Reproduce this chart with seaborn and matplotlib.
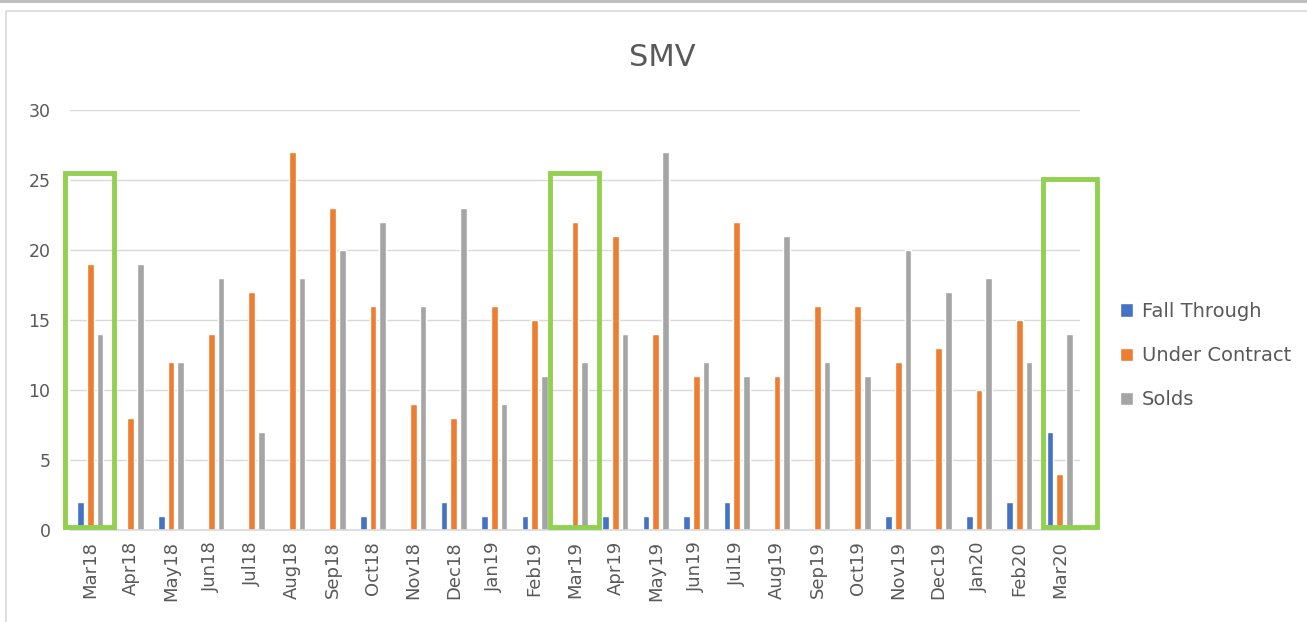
import numpy as np
import pandas as pd
import seaborn as sns
import matplotlib
matplotlib.use("Agg")
import matplotlib.pyplot as plt
from matplotlib.patches import Rectangle

months = ["Mar18", "Apr18", "May18", "Jun18", "Jul18", "Aug18", "Sep18", "Oct18",
          "Nov18", "Dec18", "Jan19", "Feb19", "Mar19", "Apr19", "May19", "Jun19",
          "Jul19", "Aug19", "Sep19", "Oct19", "Nov19", "Dec19", "Jan20", "Feb20", "Mar20"]
fall_through = [2, 0, 1, 0, 0, 0, 0, 1, 0, 2, 1, 1, 0, 1, 1, 1, 2, 0, 0, 0, 1, 0, 1, 2, 7]
under_contract = [19, 8, 12, 14, 17, 27, 23, 16, 9, 8, 16, 15, 22, 21, 14, 11, 22, 11, 16, 16, 12, 13, 10, 15, 4]
solds = [14, 19, 12, 18, 7, 18, 20, 22, 16, 23, 9, 11, 12, 14, 27, 12, 11, 21, 12, 11, 20, 17, 18, 12, 14]
series_names = ["Fall Through", "Under Contract", "Solds"]
highlight = ["Mar18", "Mar19", "Mar20"]

df = pd.DataFrame({
    "Month": months * 3,
    "Series": [series_names[0]] * len(months) + [series_names[1]] * len(months) + [series_names[2]] * len(months),
    "Value": fall_through + under_contract + solds,
})

sns.set_theme(style="white")
plt.rcParams['font.family'] = ['DejaVu Sans']
text_color = "#595959"
grid_color = "#D9D9D9"
palette = ["#4472C4", "#ED7D31", "#A5A5A5"]

fig = plt.figure(figsize=(13.07, 6.22), dpi=100)
ax = fig.add_axes([70 / 1307, 1 - 530 / 622, 1010 / 1307, 420 / 622])

sns.barplot(data=df, x="Month", y="Value", hue="Series", order=months,
            hue_order=series_names, palette=palette, width=0.72, gap=0.3,
            saturation=1, ax=ax, legend=True)

ax.set_ylim(0, 30)
ax.set_xlim(-0.5, len(months) - 0.5)
ax.set_yticks(range(0, 31, 5))
ax.yaxis.grid(True, color=grid_color, linewidth=1.0)
ax.set_axisbelow(True)
for s in ["top", "right", "left"]:
    ax.spines[s].set_visible(False)
ax.spines["bottom"].set_color(grid_color)
ax.spines["bottom"].set_linewidth(1.2)
ax.set_xlabel("")
ax.set_ylabel("")
ax.tick_params(axis="y", length=0, labelsize=12.5, labelcolor=text_color, pad=14)
ax.tick_params(axis="x", which="major", length=0, labelsize=13, labelcolor=text_color,
               rotation=90, pad=8)
ax.set_xticks(np.arange(-0.5, len(months), 1.0), minor=True)
ax.tick_params(axis="x", which="minor", length=6, color=grid_color, width=1.2)

fig.text(662 / 1307, 1 - 57 / 622, "SMV", fontsize=22, color=text_color,
         ha="center", va="center")

# highlight boxes
for m in highlight:
    i = months.index(m)
    if i == len(months) - 1:
        x0, x1, y1 = i - 0.42, i + 0.92, 25.05
    else:
        x0, x1, y1 = i - 0.63, i + 0.6, 25.5
    rect = Rectangle((x0, 0.2), x1 - x0, y1 - 0.2, fill=False, edgecolor="#92D050",
                     linewidth=3.5, clip_on=False, zorder=5)
    ax.add_patch(rect)

handles, labels = ax.get_legend_handles_labels()
ax.legend(handles, labels, loc="center left", bbox_to_anchor=(1.022, 0.415), frameon=False,
          fontsize=14, labelcolor=text_color, handlelength=0.7, handleheight=0.7,
          handletextpad=0.45, labelspacing=1.3)

# outer frame
fig.add_artist(Rectangle((0, 1 - 3 / 622), 1, 3 / 622, transform=fig.transFigure,
                         facecolor="#BFBFBF", edgecolor="none"))
fig.add_artist(Rectangle((6 / 1307, -0.05), 1.1, 1 - 11 / 622 + 0.05, transform=fig.transFigure,
                         facecolor="none", edgecolor="#D9D9D9", linewidth=1.2))

fig.savefig("out.png", dpi=100)
